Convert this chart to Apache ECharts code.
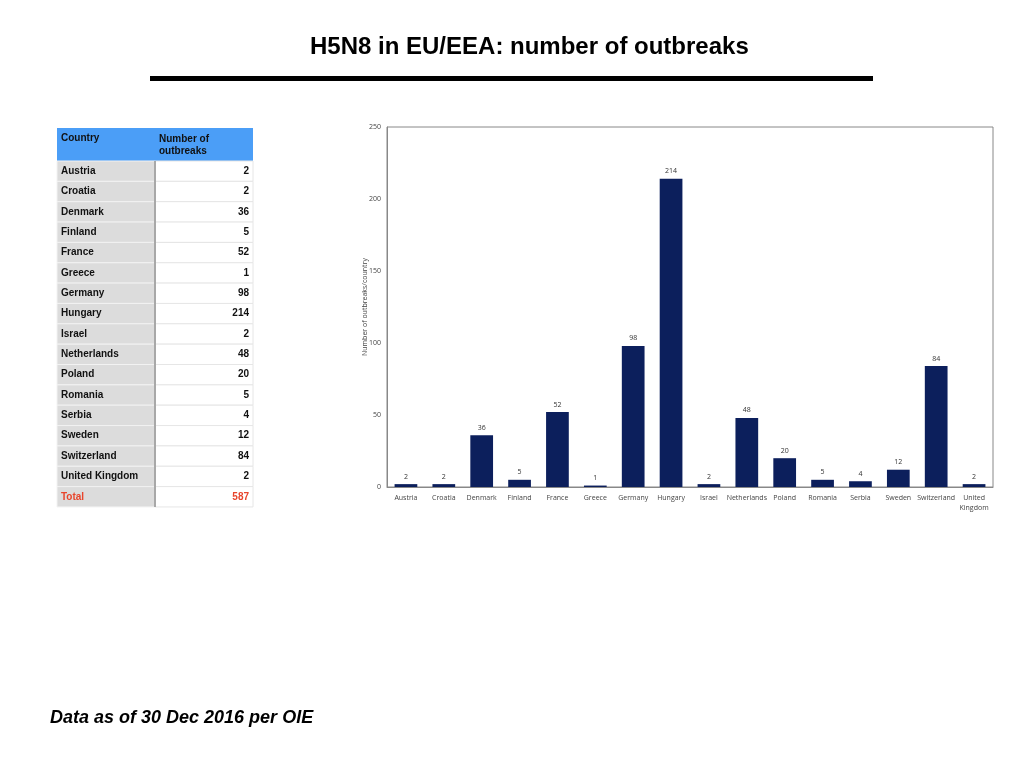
<!DOCTYPE html>
<html>
<head>
  <meta charset="utf-8">
</head>
<body style="margin: 0; background: #fff">
  <div id="container" style="width: 1024px; height: 768px"></div>
  <script src="https://cdn.jsdelivr.net/npm/echarts@6/dist/echarts.min.js"></script>
  <script>
    const countries = ['Austria', 'Croatia', 'Denmark', 'Finland', 'France', 'Greece', 'Germany', 'Hungary',
      'Israel', 'Netherlands', 'Poland', 'Romania', 'Serbia', 'Sweden', 'Switzerland', 'United Kingdom'];
    const outbreaks = [2, 2, 36, 5, 52, 1, 98, 214, 2, 48, 20, 5, 4, 12, 84, 2];
    const axisLabels = ['Austria', 'Croatia', 'Denmark', 'Finland', 'France', 'Greece', 'Germany', 'Hungary',
      'Israel', 'Netherlands', 'Poland', 'Romania', 'Serbia', 'Sweden', 'Switzerland', 'United\nKingdom'];
    const totalLabel = 'Total';
    const totalValue = 587;

    const myChart = echarts.init(document.getElementById('container'), null, { renderer: 'canvas' });

    // table drawn as graphic elements
    const tX = 57, tW1 = 98, tW2 = 98, headTop = 128, headH = 33, rowH = 20.35;
    const tableFont = 'bold 10px "Liberation Sans", Arial, sans-serif';
    const tableEls = [];
    tableEls.push({ type: 'rect', shape: { x: tX, y: headTop, width: tW1 + tW2, height: headH }, style: { fill: '#4b9ef7' } });
    tableEls.push({ type: 'text', x: tX + 4, y: headTop + 5, style: { text: 'Country', font: tableFont, fill: '#111' } });
    tableEls.push({ type: 'text', x: tX + tW1 + 4, y: headTop + 5, style: { text: 'Number of\noutbreaks', font: tableFont, fill: '#111', lineHeight: 12 } });

    const rows = countries.map((c, i) => [c, outbreaks[i]]);
    rows.push([totalLabel, totalValue]);
    rows.forEach((r, i) => {
      const y = headTop + headH + i * rowH;
      const isTotal = i === rows.length - 1;
      const color = isTotal ? '#e8452c' : '#111';
      tableEls.push({ type: 'rect', shape: { x: tX, y: y, width: tW1, height: rowH }, style: { fill: '#dcdcdc', stroke: '#f2f2f2', lineWidth: 1 } });
      tableEls.push({ type: 'rect', shape: { x: tX + tW1, y: y, width: tW2, height: rowH }, style: { fill: '#fff', stroke: '#e6e6e6', lineWidth: 1 } });
      tableEls.push({ type: 'text', x: tX + 4, y: y + rowH / 2, style: { text: r[0], font: tableFont, fill: color, verticalAlign: 'middle' } });
      tableEls.push({ type: 'text', x: tX + tW1 + tW2 - 4, y: y + rowH / 2, style: { text: String(r[1]), font: tableFont, fill: color, align: 'right', verticalAlign: 'middle' } });
    });
    tableEls.push({ type: 'line', shape: { x1: tX + tW1, y1: headTop + headH, x2: tX + tW1, y2: headTop + headH + rows.length * rowH }, style: { stroke: '#a8a8a8', lineWidth: 2 } });

    const option = {
      animation: false,
      textStyle: { fontFamily: '"Open Sans", sans-serif' },
      title: {
        text: 'H5N8 in EU/EEA: number of outbreaks',
        left: 305,
        top: 30,
        textStyle: { fontFamily: '"Liberation Sans", Arial, sans-serif', fontWeight: 'bold', fontSize: 24, color: '#000' }
      },
      graphic: [
        { type: 'rect', shape: { x: 150, y: 76, width: 723, height: 5 }, style: { fill: '#000' } },
        { type: 'text', left: 50, top: 709, style: { text: 'Data as of 30 Dec 2016 per OIE', font: 'italic bold 18px "Liberation Sans", Arial, sans-serif', fill: '#000' } },
        { type: 'group', children: tableEls }
      ],
      grid: {
        left: 387, top: 127, right: 31, bottom: 281,
        show: true, borderColor: '#888', borderWidth: 1, backgroundColor: 'transparent'
      },
      xAxis: {
        type: 'category',
        data: axisLabels,
        axisLine: { lineStyle: { color: '#888' } },
        axisTick: { show: false },
        axisLabel: { interval: 0, fontSize: 7, color: '#444', margin: 6, lineHeight: 10 }
      },
      yAxis: {
        type: 'value',
        min: 0, max: 250, interval: 50,
        name: 'Number of outbreaks/country',
        nameLocation: 'middle',
        nameGap: 19,
        nameMoveOverlap: false,
        nameTextStyle: { fontSize: 7, color: '#444' },
        axisLine: { show: true, lineStyle: { color: '#888' } },
        axisTick: { show: false },
        splitLine: { show: false },
        axisLabel: { fontSize: 7, color: '#444', margin: 6 }
      },
      series: [{
        type: 'bar',
        data: outbreaks,
        barCategoryGap: '40%',
        itemStyle: { color: '#0c1f5c' },
        label: { show: true, position: 'top', fontSize: 7, color: '#333', distance: 4 }
      }]
    };

    myChart.setOption(option);
    window.addEventListener('resize', myChart.resize);
  </script>
</body>
</html>
